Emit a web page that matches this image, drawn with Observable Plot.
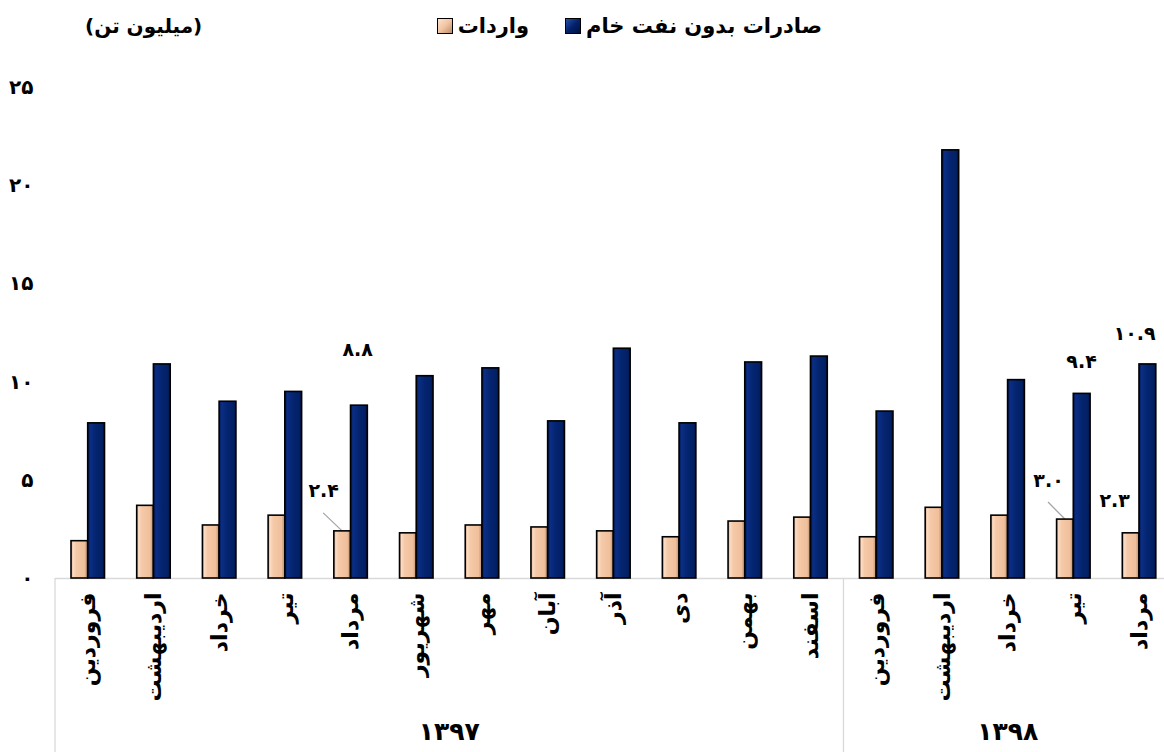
<!DOCTYPE html>
<html><head><meta charset="utf-8">
<script src="https://cdn.jsdelivr.net/npm/d3@7"></script>
<script src="https://cdn.jsdelivr.net/npm/@observablehq/plot@0.6"></script>
<style>
html,body{margin:0;padding:0;background:#fff;overflow:hidden;width:1164px;height:752px}
#wrap{position:relative;width:1164px;height:752px;overflow:hidden;font-family:"DejaVu Sans",sans-serif;font-weight:bold;color:#000}
#unit{position:absolute;left:85px;top:14px;font-size:20px;direction:rtl;white-space:nowrap}
#legend{position:absolute;right:342px;top:14px;font-size:21px;direction:rtl;display:flex;gap:36px;white-space:nowrap}
#legend .item{display:flex;align-items:center;gap:5px}
#legend .sw{display:inline-block;width:14px;height:14px;border:1.5px solid #000}
#chart{position:absolute;left:0;top:50px;width:1172px}
#chart svg{max-width:none !important;width:1172px;height:702px}
g[aria-label^="x-axis"] text{font-size:22px}
g[aria-label^="y-axis"] text{font-size:20px}
</style></head>
<body><div id="wrap"><div id="unit"></div><div id="legend"></div><div id="chart"></div></div>
<script>
// ---- data ----
const unitLabel = "(میلیون تن)";
const seriesNames = ["صادرات بدون نفت خام", "واردات"];
const months = ["فروردین","اردیبهشت","خرداد","تیر","مرداد","شهریور","مهر","آبان","آذر","دی","بهمن","اسفند","فروردین","اردیبهشت","خرداد","تیر","مرداد"];
const years = ["۱۳۹۷", "۱۳۹۸"];
const yearCounts = [12, 5];
const exportsNonOil = [7.9, 10.9, 9.0, 9.5, 8.8, 10.3, 10.7, 8.0, 11.7, 7.9, 11.0, 11.3, 8.5, 21.8, 10.1, 9.4, 10.9];
const importsVal = [1.9, 3.7, 2.7, 3.2, 2.4, 2.3, 2.7, 2.6, 2.4, 2.1, 2.9, 3.1, 2.1, 3.6, 3.2, 3.0, 2.3];
const yTicks = [0, 5, 10, 15, 20, 25];

// ---- helpers ----
const fa = s => String(s).replace(/\d/g, d => "۰۱۲۳۴۵۶۷۸۹"[+d]);
const fmt1 = v => fa(v.toFixed(1));
const rows = months.map((m, i) => ({key: i, month: m, exp: exportsNonOil[i], imp: importsVal[i]}));

const colExp = "url(#gExp)", colImp = "url(#gImp)";
const impOffset = -8.6;

// header
document.getElementById("unit").textContent = unitLabel;
const legend = document.getElementById("legend");
[["exp", seriesNames[0]], ["imp", seriesNames[1]]].forEach(([k, name]) => {
  const it = document.createElement("span"); it.className = "item";
  const t = document.createElement("span"); t.textContent = name;
  const sw = document.createElement("span"); sw.className = "sw";
  sw.style.background = k === "exp"
    ? "linear-gradient(135deg,#2a4fa8 0%,#03226b 50%,#001040 100%)"
    : "linear-gradient(135deg,#fde3cf 0%,#f2c4a2 50%,#b98c6c 100%)";
  it.append(t, sw); legend.append(it);
});

function decor(index, scales, values, dims) {
  const x = scales.x, y = scales.y;
  const bw = x.bandwidth();
  const g = d3.create("svg:g");
  const defs = g.append("defs");
  const grad = (id, stops) => {
    const lg = defs.append("linearGradient").attr("id", id).attr("x1", 0).attr("x2", 1).attr("y1", 0).attr("y2", 0);
    stops.forEach(([o, c]) => lg.append("stop").attr("offset", o).attr("stop-color", c));
  };
  grad("gImp", [[0, "#c99a7a"], [0.12, "#fbdcc4"], [0.3, "#f5c9a8"], [0.8, "#f0bf9b"], [1, "#b88b6c"]]);
  grad("gExp", [[0, "#001650"], [0.15, "#0b2e85"], [0.5, "#04246f"], [0.85, "#022065"], [1, "#00143f"]]);
  const yBase = y(0);
  const n = months.length;
  let start = 0;
  const edges = [0];
  yearCounts.forEach(c => { start += c; edges.push(start); });
  const px = e => e < n ? x(e) : x(n - 1) + bw;
  edges.forEach(e => {
    g.append("line").attr("x1", px(e)).attr("x2", px(e)).attr("y1", yBase).attr("y2", dims.height)
      .attr("stroke", "#d9d9d9").attr("stroke-width", 1.3);
  });
  years.forEach((yr, k) => {
    const cx = (px(edges[k]) + px(edges[k + 1])) / 2;
    g.append("text").attr("x", cx).attr("y", yBase + 155).attr("text-anchor", "middle")
      .attr("dominant-baseline", "middle").attr("font-size", 25).attr("font-weight", "bold").text(yr);
  });
  const leader = (i, v, ldx, ldy) => {
    const cx = x(i) + bw / 2;
    g.append("line").attr("x1", cx + ldx).attr("y1", y(v) + ldy).attr("x2", cx + impOffset).attr("y2", y(v))
      .attr("stroke", "#a6a6a6").attr("stroke-width", 1.3);
  };
  leader(4, importsVal[4], -27.5, -18);
  leader(15, importsVal[15], -25.4, -17);
  return g.node();
}

const label = (i, field, dx, dy) => Plot.text([rows[i]], {
  x: "key", y: field, text: d => fmt1(d[field]), dx, dy, fontSize: 19, fontWeight: "bold"
});

const chart = Plot.plot({
  width: 1172,
  height: 702,
  marginTop: 37,
  marginBottom: 174,
  marginLeft: 55,
  marginRight: 0,
  style: {fontFamily: "DejaVu Sans", fontWeight: "bold", fontSize: "17px", background: "transparent", color: "#000", maxWidth: "none"},
  x: {domain: rows.map(d => d.key), padding: 0, round: false, tickRotate: -90, tickSize: 0, tickPadding: 14, tickFormat: i => months[i], label: null},
  y: {domain: [0, 25], ticks: yTicks, tickSize: 0, tickPadding: 22, tickFormat: d => fa(d), label: null},
  marks: [
    decor,
    Plot.ruleY([0], {stroke: "#d9d9d9", strokeWidth: 1.5}),
    Plot.barY(rows, {x: "key", y: "imp", fill: colImp, stroke: "#000", strokeWidth: 1.6, insetLeft: 16, insetRight: 33}),
    Plot.barY(rows, {x: "key", y: "exp", fill: colExp, stroke: "#000", strokeWidth: 1.6, insetLeft: 32.7, insetRight: 16.2}),
    label(4, "exp", 6.5, -56),
    label(4, "imp", -27.5, -40),
    label(15, "exp", 7.6, -32),
    label(15, "imp", -25.4, -39),
    label(16, "imp", -25, -32),
    label(16, "exp", -5, -31)
  ]
});
document.getElementById("chart").append(chart);
</script></body></html>
